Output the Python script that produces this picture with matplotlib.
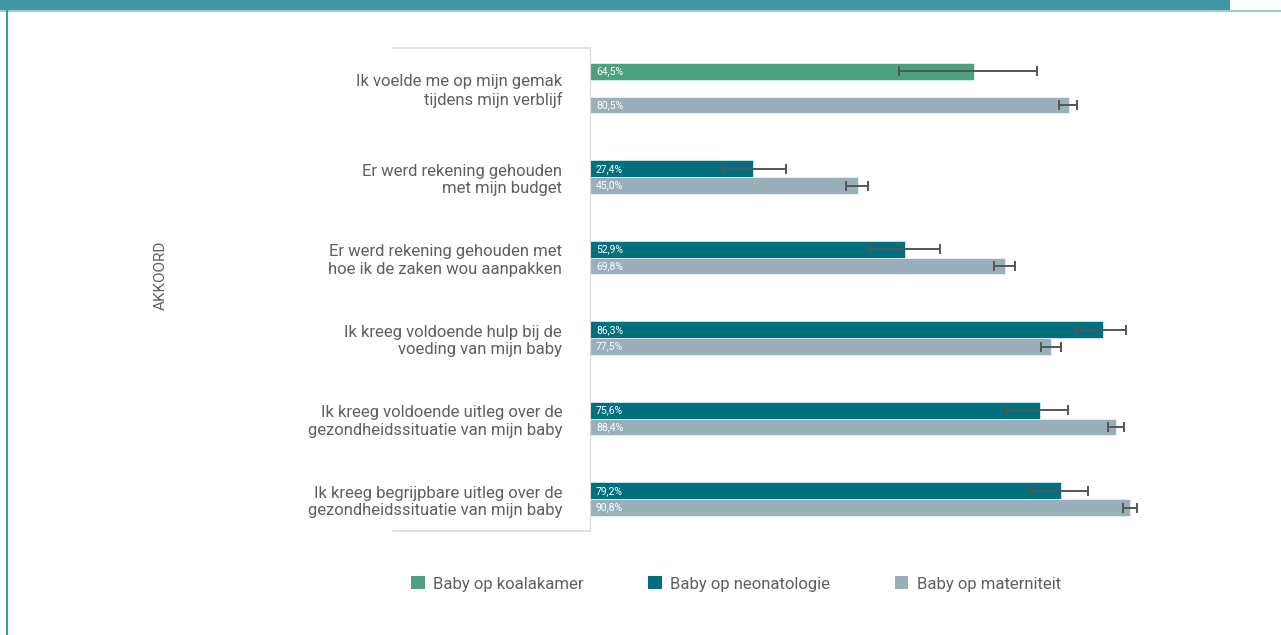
import numpy as np
import matplotlib
matplotlib.use('Agg')
import matplotlib.pyplot as plt
from matplotlib import font_manager as fm
from matplotlib.patches import Patch, Rectangle
from matplotlib.lines import Line2D

# pick a narrow font if there is one
fams = {f.name for f in fm.fontManager.ttflist}
font = 'Liberation Sans Narrow' if 'Liberation Sans Narrow' in fams else 'Roboto'
plt.rcParams['font.family'] = [font, 'DejaVu Sans']

categories = ['Ik voelde me op mijn gemak\ntijdens mijn verblijf',
              'Er werd rekening gehouden\nmet mijn budget',
              'Er werd rekening gehouden met\nhoe ik de zaken wou aanpakken',
              'Ik kreeg voldoende hulp bij de\nvoeding van mijn baby',
              'Ik kreeg voldoende uitleg over de\ngezondheidssituatie van mijn baby',
              'Ik kreeg begrijpbare uitleg over de\ngezondheidssituatie van mijn baby']
series = ['Baby op koalakamer', 'Baby op neonatologie', 'Baby op materniteit']
nan = np.nan
koala = [64.5, nan, nan, nan, nan, nan]
koala_lo = [51.9, nan, nan, nan, nan, nan]
koala_hi = [75.2, nan, nan, nan, nan, nan]
neo = [nan, 27.4, 52.9, 86.3, 75.6, 79.2]
neo_lo = [nan, 22.3, 46.9, 81.6, 70.0, 73.9]
neo_hi = [nan, 32.9, 58.8, 90.1, 80.4, 83.7]
mat = [80.5, 45.0, 69.8, 77.5, 88.4, 90.8]
mat_lo = [78.8, 43.0, 67.9, 75.8, 87.1, 89.5]
mat_hi = [81.9, 46.8, 71.5, 79.1, 89.8, 92.0]

colors = ['#4CA280', '#00707F', '#99B0BB']
txt = '#5f5f5f'

W, H = 1281, 635
fig = plt.figure(figsize=(W / 100, H / 100), dpi=100)
ax = fig.add_axes([590 / W, 1 - 531 / H, 595 / W, 483 / H])

h = 0.209
y = np.arange(len(categories))
data = [(koala, koala_lo, koala_hi), (neo, neo_lo, neo_hi), (mat, mat_lo, mat_hi)]
for k, (vals, lo, hi) in enumerate(data):
    vals = np.array(vals)
    lo = np.array(lo)
    hi = np.array(hi)
    yy = y + (k - 1) * h
    ax.barh(yy, vals, height=h, color=colors[k], edgecolor='white', linewidth=0.4, zorder=2)
    err = np.vstack([vals - lo, hi - vals])
    ax.errorbar(vals, yy, xerr=err, fmt='none', ecolor='#555555', elinewidth=1.4,
                capsize=3.5, capthick=1.4, zorder=3)
    for yi, v in zip(yy, vals):
        if not np.isnan(v):
            ax.text(1, yi, f'{v:.1f}%'.replace('.', ','), color='white', fontsize=7.5,
                    va='center', ha='left', zorder=4)

# labels centred on the bars that exist
label_y = []
for i in range(len(categories)):
    pos = [i + (k - 1) * h for k, (vals, _, _) in enumerate(data) if not np.isnan(vals[i])]
    label_y.append(np.mean(pos))
ax.set_yticks(label_y)
ax.set_yticklabels(categories, fontsize=12, color=txt, linespacing=1.2)
ax.tick_params(axis='y', length=0, pad=20)
ax.set_xticks([])
ax.set_xlim(0, 100)
ax.set_ylim(5.5, -0.5)
for s in ['top', 'right', 'bottom']:
    ax.spines[s].set_visible(False)
ax.spines['left'].set_color('#d9d9d9')

# box around the category labels
for yb in [48, 531]:
    fig.add_artist(Line2D([393 / W, 590 / W], [1 - yb / H, 1 - yb / H], color='#d9d9d9', lw=1.2))

fig.text(161 / W, 1 - 275 / H, 'AKKOORD', rotation=90, color=txt, fontsize=11,
         ha='center', va='center')

handles = [Patch(facecolor=c, label=l) for c, l in zip(colors, series)]
fig.legend(handles=handles, loc='center', bbox_to_anchor=(736 / W, 1 - 584 / H), ncol=3,
           frameon=False, fontsize=12, labelcolor=txt, handlelength=0.8, handleheight=0.8,
           handletextpad=0.5, columnspacing=3.9)

# page frame
fig.add_artist(Rectangle((0, 1 - 10 / H), 1230 / W, 10 / H, color='#4097A3', lw=0))
fig.add_artist(Line2D([0, 1], [1 - 11 / H, 1 - 11 / H], color='#9CCBD0', lw=1.5))
fig.add_artist(Line2D([7 / W, 7 / W], [0, 1 - 10 / H], color='#4097A3', lw=1.5))

fig.savefig('out.png', dpi=100)
